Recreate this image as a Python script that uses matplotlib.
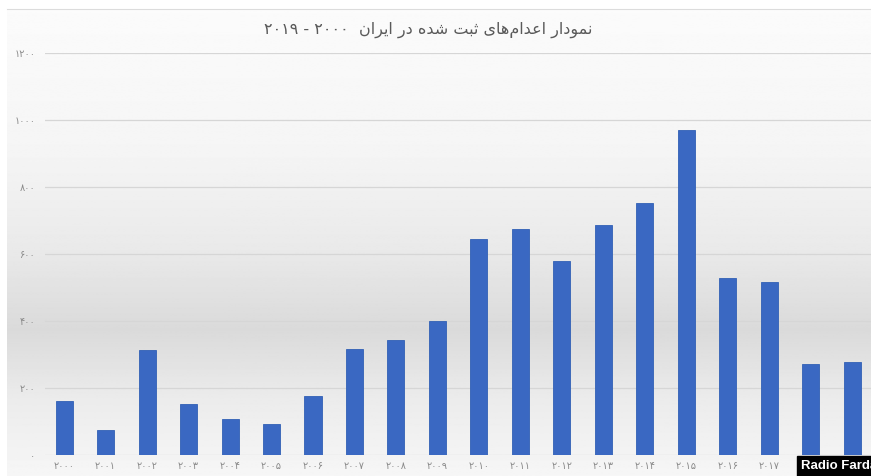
import re
import matplotlib
matplotlib.use('Agg')
import matplotlib.pyplot as plt
import numpy as np
from matplotlib.patches import Rectangle

years = [2000, 2001, 2002, 2003, 2004, 2005, 2006, 2007, 2008, 2009,
         2010, 2011, 2012, 2013, 2014, 2015, 2016, 2017, 2018, 2019]
executions = [162, 75, 313, 152, 107, 93, 176, 316, 343, 401,
              645, 675, 579, 687, 753, 970, 528, 516, 272, 279]
yticks = [0, 200, 400, 600, 800, 1000, 1200]
title = 'نمودار اعدام\u200cهای ثبت شده در ایران  ۲۰۰۰ - ۲۰۱۹'

FA_DIGITS = str.maketrans('0123456789', '۰۱۲۳۴۵۶۷۸۹')

# arabic presentation forms: isolated, final, initial, medial
FORMS = {
    'ا': ('\uFE8D', '\uFE8E', None, None),
    'ب': ('\uFE8F', '\uFE90', '\uFE91', '\uFE92'),
    'ت': ('\uFE95', '\uFE96', '\uFE97', '\uFE98'),
    'ث': ('\uFE99', '\uFE9A', '\uFE9B', '\uFE9C'),
    'د': ('\uFEA9', '\uFEAA', None, None),
    'ر': ('\uFEAD', '\uFEAE', None, None),
    'ش': ('\uFEB5', '\uFEB6', '\uFEB7', '\uFEB8'),
    'ع': ('\uFEC9', '\uFECA', '\uFECB', '\uFECC'),
    'م': ('\uFEE1', '\uFEE2', '\uFEE3', '\uFEE4'),
    'ن': ('\uFEE5', '\uFEE6', '\uFEE7', '\uFEE8'),
    'ه': ('\uFEE9', '\uFEEA', '\uFEEB', '\uFEEC'),
    'و': ('\uFEED', '\uFEEE', None, None),
    'ی': ('\uFEEF', '\uFEF0', '\uFEF3', '\uFEF4'),
}


def rtl(text):
    # join letters, then put in visual order (digit runs stay LTR)
    out = []
    for i, ch in enumerate(text):
        if ch not in FORMS:
            out.append(ch)
            continue
        prev = text[i - 1] if i > 0 else ''
        nxt = text[i + 1] if i + 1 < len(text) else ''
        jp = prev in FORMS and FORMS[prev][2] is not None
        jn = nxt in FORMS and FORMS[ch][2] is not None
        iso, fin, ini, med = FORMS[ch]
        if jp and jn:
            out.append(med)
        elif jp:
            out.append(fin)
        elif jn:
            out.append(ini)
        else:
            out.append(iso)
    s = ''.join(out).replace('\u200c', '')[::-1]
    return re.sub('[۰-۹]+', lambda m: m.group(0)[::-1], s)


fig = plt.figure(figsize=(8.71, 4.76), dpi=100)

# grey gradient backdrop
bg = fig.add_axes([7 / 871, 0, 1 - 7 / 871, 467 / 476], zorder=0)
rows = np.linspace(9, 476, 400)
shade = np.interp(rows, [9, 150, 250, 330, 395, 476], [0.985, 0.96, 0.915, 0.855, 0.92, 0.965])
bg.imshow(np.repeat(shade[:, None], 2, axis=1), cmap='gray', vmin=0, vmax=1,
          aspect='auto', extent=[0, 1, 0, 1])
bg.axis('off')
fig.add_artist(plt.Line2D([7 / 871, 1], [467 / 476, 467 / 476], color='#dcdcdc', lw=0.8))

ax = fig.add_axes([45 / 871, 21 / 476, 1 - 45 / 871, 402 / 476], zorder=1)
ax.patch.set_alpha(0)
x = np.arange(len(years))
ax.bar(x, executions, width=0.41, color='#3a68c2', edgecolor='#3160b5', linewidth=0.6, zorder=3)

ax.set_xlim(-0.46, 19.45)
ax.set_ylim(0, 1200)
ax.set_yticks(yticks)
ax.set_yticklabels([str(v).translate(FA_DIGITS) for v in yticks])
ax.set_xticks(x)
ax.set_xticklabels([str(y).translate(FA_DIGITS) for y in years])
ax.tick_params(length=0, labelsize=7, labelcolor='#8a8a8a')
ax.tick_params(axis='y', pad=7)
ax.tick_params(axis='x', pad=4)
ax.yaxis.grid(True, color='#d6d6d6', lw=0.9, zorder=1)
for s in ax.spines.values():
    s.set_visible(False)

fig.text(428 / 871, 1 - 30 / 476, rtl(title), ha='center', va='center',
         fontsize=11.5, color='#5a5a5a')

# watermark (covers the last two year labels, as in the original)
fig.add_artist(Rectangle((797 / 871, 0), 80 / 871, 20 / 476, transform=fig.transFigure,
                         color='black', zorder=5))
fig.text(801 / 871, 10 / 476, 'Radio Farda', ha='left', va='center', color='white',
         fontsize=9.5, fontweight='bold', family='Liberation Sans', zorder=6)

fig.savefig('out.png', dpi=100)
